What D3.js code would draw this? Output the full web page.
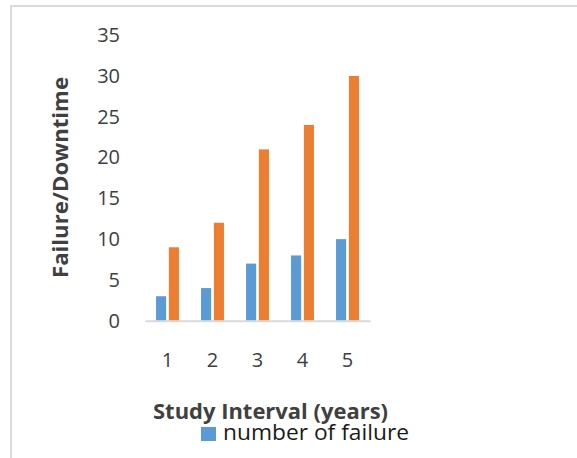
<!DOCTYPE html>
<html><head><meta charset="utf-8">
<script src="https://cdn.jsdelivr.net/npm/d3@7"></script>
<style>html,body{margin:0;padding:0;background:#fff;overflow:hidden}</style>
</head><body>
<svg id="c" width="577" height="458"></svg>
<script>
const categories = ["1","2","3","4","5"];
const failures = [3,4,7,8,10];
const downtime = [9,12,21,24,30];
const yTicks = [0,5,10,15,20,25,30,35];
const seriesNames = ["number of failure","downtime"];

const svg = d3.select("#c");
const font = "'Open Sans', sans-serif";

// chart border
svg.append("rect").attr("x",11).attr("y",6).attr("width",600).attr("height",500)
  .attr("fill","none").attr("stroke","#d9d9d9").attr("stroke-width",2);

const x = d3.scaleBand().domain(categories).range([145,370]).padding(0);
const y = d3.scaleLinear().domain([0,35]).range([320.7,35.2]);
const bw = x.bandwidth()/4.46;
const sep = bw*0.27;

// bars
const g = svg.append("g");
g.selectAll(".b1").data(failures).join("rect")
  .attr("x",(d,i)=>x(categories[i])+x.bandwidth()/2 - sep/2 - bw)
  .attr("y",d=>y(d)).attr("width",bw).attr("height",d=>y(0)-y(d))
  .attr("fill","#5b9bd5");
g.selectAll(".b2").data(downtime).join("rect")
  .attr("x",(d,i)=>x(categories[i])+x.bandwidth()/2 + sep/2)
  .attr("y",d=>y(d)).attr("width",bw).attr("height",d=>y(0)-y(d))
  .attr("fill","#ed7d31");

// y axis
const ya = svg.append("g").attr("transform","translate(145,0)")
  .call(d3.axisLeft(y).tickValues(yTicks).tickSize(0).tickPadding(25));
ya.select(".domain").remove();
ya.selectAll("text").attr("font-family",font).attr("font-size",20).attr("fill","#404040");

// x axis
const xa = svg.append("g").attr("transform","translate(0,320.7)")
  .call(d3.axisBottom(x).tickSize(0).tickPadding(32.5));
xa.select(".domain").attr("stroke","#d9d9d9").attr("stroke-width",2);
xa.selectAll("text").attr("font-family",font).attr("font-size",20).attr("fill","#404040");

// axis titles
svg.append("text").attr("transform","translate(68,177.5) rotate(-90)")
  .attr("text-anchor","middle").attr("font-family",font).attr("font-weight","bold")
  .attr("font-size",21).attr("fill","#404040")
  .attr("textLength",201).attr("lengthAdjust","spacingAndGlyphs")
  .text("Failure/Downtime");
svg.append("text").attr("x",153).attr("y",419)
  .attr("font-family",font).attr("font-weight","bold")
  .attr("font-size",21).attr("fill","#404040")
  .attr("textLength",235).attr("lengthAdjust","spacingAndGlyphs")
  .text("Study Interval (years)");

// legend
svg.append("rect").attr("x",201).attr("y",427).attr("width",15).attr("height",14).attr("fill","#5b9bd5");
svg.append("text").attr("x",223).attr("y",440)
  .attr("font-family",font).attr("font-size",21).attr("fill","#1a1a1a")
  .attr("textLength",186).attr("lengthAdjust","spacingAndGlyphs")
  .text(seriesNames[0]);
</script>
</body></html>
